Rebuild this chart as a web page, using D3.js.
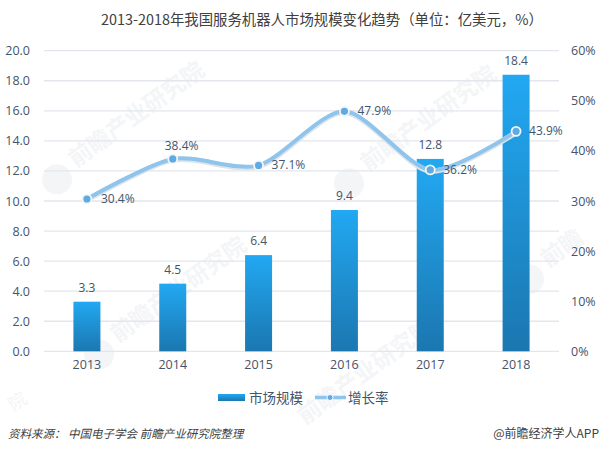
<!DOCTYPE html>
<html>
<head>
<meta charset="utf-8">
<script src="https://cdn.jsdelivr.net/npm/d3@7"></script>
<style>
  html, body { margin: 0; padding: 0; background: #fff; }
  text { font-family: "Noto Sans CJK SC", "Noto Sans", sans-serif; }
</style>
</head>
<body>
<svg id="chart" width="600" height="450"></svg>
<script>
const years = ['2013', '2014', '2015', '2016', '2017', '2018'];
const marketSize = [3.3, 4.5, 6.4, 9.4, 12.8, 18.4];
const growthRate = [30.4, 38.4, 37.1, 47.9, 36.2, 43.9];
const leftTicks = [0, 2, 4, 6, 8, 10, 12, 14, 16, 18, 20];
const rightTicks = [0, 10, 20, 30, 40, 50, 60];

const textColor = '#44546a';
const svg = d3.select('#chart');

const x = d3.scaleBand().domain(years).range([44, 559]);
const yLeft = d3.scaleLinear().domain([0, 20]).range([351.3, 50.7]);
const yRight = d3.scaleLinear().domain([0, 60]).range([351.3, 50.7]);
const cx = d => x(d) + x.bandwidth() / 2;

// bar gradient
const defs = svg.append('defs');
const grad = defs.append('linearGradient')
  .attr('id', 'barFill').attr('x1', 0).attr('y1', 0).attr('x2', 0).attr('y2', 1);
grad.append('stop').attr('offset', '0%').attr('stop-color', '#22a8f2');
grad.append('stop').attr('offset', '100%').attr('stop-color', '#1b77b0');

// faint watermarks, the one under the legend has no logo
const marks = [[76, 168, '前瞻产业研究院', true], [118, 343, '前瞻产业研究院', true], [368, 172, '前瞻产业研究院', true],
  [305, 425, '前瞻产业研究院', false], [548, 268, '前瞻', true]];
const wm = svg.append('g').attr('fill', '#f4f5f7');
marks.forEach(m => {
  const g = wm.append('g').attr('transform', `translate(${m[0]},${m[1]}) rotate(-36)`);
  g.append('text').attr('font-size', 23).attr('font-weight', 700).text(m[2]);
  if (m[3]) g.append('circle').attr('cx', -22).attr('cy', -2).attr('r', 15);
});
wm.append('text').attr('x', 14).attr('y', 412)
  .attr('font-size', 18).attr('transform', 'rotate(-36 14 412)').text('院');

// gridlines
svg.append('g').selectAll('line').data(leftTicks).join('line')
  .attr('x1', 44).attr('x2', 559)
  .attr('y1', d => yLeft(d)).attr('y2', d => yLeft(d))
  .attr('stroke', '#e3e6ed').attr('stroke-width', 1.3);

// axes
const axisLeft = svg.append('g').attr('transform', 'translate(30,0)')
  .call(d3.axisLeft(yLeft).tickValues(leftTicks).tickFormat(d3.format('.1f')).tickSize(0));
const axisRight = svg.append('g').attr('transform', 'translate(571,0)')
  .call(d3.axisRight(yRight).tickValues(rightTicks).tickFormat(d => d + '%').tickSize(0));
const axisBottom = svg.append('g').attr('transform', 'translate(0,351.3)')
  .call(d3.axisBottom(x).tickSize(0).tickPadding(9));
[axisLeft, axisRight, axisBottom].forEach(a => {
  a.select('.domain').remove();
  a.selectAll('text').attr('font-size', 12.5).attr('fill', textColor)
    .style('font-family', '"Open Sans", sans-serif');
});
axisLeft.selectAll('text').attr('text-anchor', 'end').attr('x', 0);
axisRight.selectAll('text').attr('x', 0);

// bars
svg.append('g').selectAll('rect').data(years).join('rect')
  .attr('x', d => cx(d) - 13.5)
  .attr('width', 27)
  .attr('y', (d, i) => yLeft(marketSize[i]))
  .attr('height', (d, i) => yLeft(0) - yLeft(marketSize[i]))
  .attr('fill', 'url(#barFill)');

// bar labels
svg.append('g').selectAll('text').data(years).join('text')
  .attr('x', cx)
  .attr('y', (d, i) => yLeft(marketSize[i]) - 10)
  .attr('text-anchor', 'middle')
  .attr('font-size', 12).attr('fill', textColor)
  .style('font-family', '"Open Sans", sans-serif')
  .text((d, i) => marketSize[i].toFixed(1));

// growth line
const line = d3.line()
  .x((d, i) => cx(years[i]))
  .y(d => yRight(d))
  .curve(d3.curveCardinal.tension(0.2));
svg.append('path').datum(growthRate)
  .attr('d', line).attr('fill', 'none')
  .attr('stroke', '#dfe4ea').attr('stroke-width', 5.5)
  .attr('transform', 'translate(0,1)');
svg.append('path').datum(growthRate)
  .attr('d', line).attr('fill', 'none')
  .attr('stroke', '#8fc5ec').attr('stroke-width', 4);

svg.append('g').selectAll('circle').data(growthRate).join('circle')
  .attr('cx', (d, i) => cx(years[i]))
  .attr('cy', d => yRight(d))
  .attr('r', 4.5)
  .attr('fill', '#5dabe2').attr('stroke', '#f4f6f8').attr('stroke-width', 1.8);

// growth labels, offsets picked per point like the original
const labelDx = [14, -8, 13, 13, 13, 13];
const labelDy = [4, -9, 4, 4, 4, 4];
svg.append('g').selectAll('text').data(growthRate).join('text')
  .attr('x', (d, i) => cx(years[i]) + labelDx[i])
  .attr('y', (d, i) => yRight(d) + labelDy[i])
  .attr('font-size', 12).attr('fill', textColor)
  .style('font-family', '"Open Sans", sans-serif')
  .text(d => d.toFixed(1) + '%');

// title
svg.append('text').attr('x', 101).attr('y', 25)
  .attr('font-size', 14.4).attr('fill', '#404040')
  .text('2013-2018年我国服务机器人市场规模变化趋势（单位：亿美元，%）');

// legend
svg.append('rect').attr('x', 218).attr('y', 394).attr('width', 27).attr('height', 7)
  .attr('fill', 'url(#barFill)');
svg.append('text').attr('x', 249).attr('y', 402.5)
  .attr('font-size', 13.5).attr('fill', textColor).text('市场规模');
svg.append('line').attr('x1', 315).attr('x2', 346).attr('y1', 397.5).attr('y2', 397.5)
  .attr('stroke', '#8fc5ec').attr('stroke-width', 3.5);
svg.append('circle').attr('cx', 330).attr('cy', 397.5).attr('r', 3)
  .attr('fill', '#5dabe2').attr('stroke', '#fff').attr('stroke-width', 1);
svg.append('text').attr('x', 348).attr('y', 402.5)
  .attr('font-size', 13.5).attr('fill', textColor).text('增长率');

// footer
svg.append('text').attr('x', 8).attr('y', 438)
  .attr('font-size', 11.5).attr('font-style', 'italic').attr('fill', '#404040')
  .text('资料来源： 中国电子学会 前瞻产业研究院整理');
svg.append('text').attr('x', 599).attr('y', 438).attr('text-anchor', 'end')
  .attr('font-size', 12).attr('fill', '#404040')
  .text('@前瞻经济学人APP');
</script>
</body>
</html>
